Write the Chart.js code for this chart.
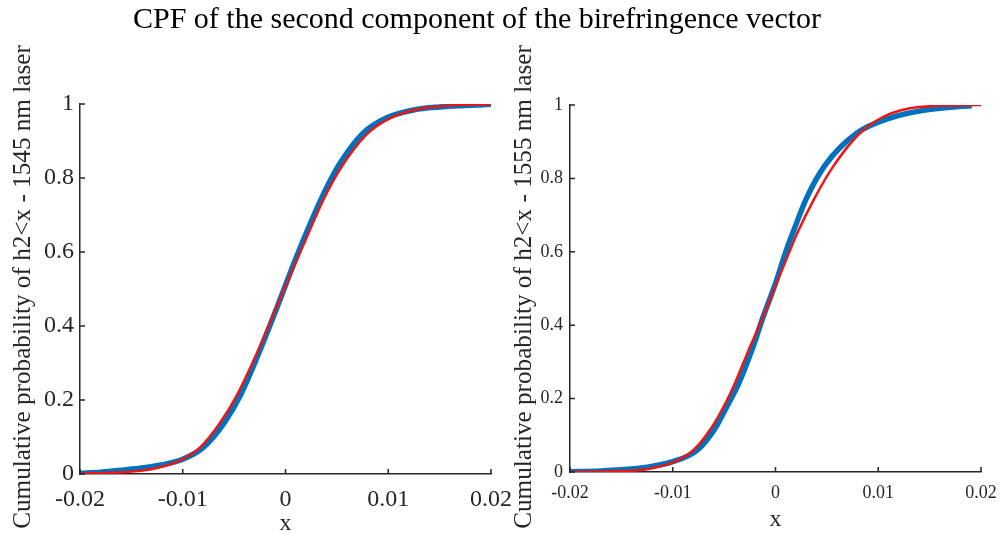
<!DOCTYPE html>
<html>
<head>
<meta charset="utf-8">
<script src="https://cdn.jsdelivr.net/npm/chart.js@4"></script>
<style>
  body { margin: 0; background: #fff; }
  #wrap { position: relative; width: 1006px; height: 538px; overflow: hidden; font-family: 'Liberation Serif', 'DejaVu Serif', serif; color: #262626; }
  canvas { position: absolute; top: 0; }
  #chartLeft { left: 0; }
  #chartRight { left: 515px; }
  .title { position: absolute; top: 1px; left: 0; width: 954px; text-align: center; font-size: 30px; line-height: 34px; color: #000; }
  .ytitle { position: absolute; width: 600px; height: 30px; line-height: 30px; text-align: center; font-size: 25.2px; transform: rotate(-90deg); white-space: nowrap; z-index: 2; }
</style>
</head>
<body>
<div id="wrap">
  <canvas id="chartLeft" width="515" height="538"></canvas>
  <canvas id="chartRight" width="491" height="538"></canvas>
  <div class="title">CPF of the second component of the birefringence vector</div>
  <div class="ytitle" id="ytLeft"></div>
  <div class="ytitle" id="ytRight"></div>
</div>
<script>
// axis ticks
const xTicks = [-0.02, -0.01, 0, 0.01, 0.02];
const xTickLabels = ['-0.02', '-0.01', '0', '0.01', '0.02'];
const yTicks = [0, 0.2, 0.4, 0.6, 0.8, 1];
const yTickLabels = ['0', '0.2', '0.4', '0.6', '0.8', '1'];

const leftYTitle = 'Cumulative probability of h2<x - 1545 nm laser';
const rightYTitle = 'Cumulative probability of h2<x - 1555 nm laser';
const xTitle = 'x';

// 1545 nm : measured (blue) and fitted (red)
const leftBlueX = [-0.0200, -0.0180, -0.0160, -0.0140, -0.0120, -0.0100, -0.0080, -0.0060, -0.0044, -0.0025, -0.0008, 0.0009, 0.0020, 0.0035, 0.0052, 0.0075, 0.0098, 0.0125, 0.0150, 0.0175, 0.0200];
const leftBlueY = [0.002, 0.005, 0.010, 0.016, 0.025, 0.040, 0.072, 0.137, 0.212, 0.333, 0.452, 0.575, 0.650, 0.745, 0.835, 0.920, 0.962, 0.984, 0.992, 0.996, 0.999];
const leftRedX = [-0.0200, -0.0165, -0.0132, -0.0103, -0.0083, -0.0064, -0.00475, -0.00268, -0.00086, 0.00109, 0.00222, 0.00368, 0.00547, 0.0079, 0.0102, 0.0131, 0.0160, 0.0200];
const leftRedY = [0.001, 0.004, 0.012, 0.036, 0.072, 0.137, 0.212, 0.333, 0.452, 0.578, 0.650, 0.741, 0.831, 0.918, 0.962, 0.987, 0.996, 0.999];

// 1555 nm : measured (blue) and fitted (red)
const rightBlueX = [-0.0200, -0.0170, -0.0150, -0.0125, -0.0100, -0.0076, -0.0059, -0.0047, -0.0036, -0.0023, -0.0012, 0.0000, 0.0010, 0.0018, 0.0030, 0.0048, 0.0079, 0.0112, 0.0141, 0.0167, 0.0191];
const rightBlueY = [0.001, 0.003, 0.006, 0.013, 0.028, 0.060, 0.118, 0.180, 0.240, 0.332, 0.423, 0.514, 0.600, 0.660, 0.745, 0.835, 0.923, 0.965, 0.984, 0.993, 0.998];
const rightRedX = [-0.0200, -0.0160, -0.0127, -0.0098, -0.0079, -0.0062, -0.0049, -0.0041, -0.00265, -0.0012, 0.0001, 0.0012, 0.0021, 0.0037, 0.0056, 0.0082, 0.0105, 0.0131, 0.0160, 0.0200];
const rightRedY = [0.000, 0.002, 0.007, 0.028, 0.062, 0.122, 0.186, 0.232, 0.330, 0.423, 0.514, 0.590, 0.650, 0.741, 0.832, 0.923, 0.968, 0.991, 0.998, 1.000];

const FONT = "'Liberation Serif', 'DejaVu Serif', serif";
const AXIS = '#262626';

function toPoints(xs, ys) {
  return xs.map((x, i) => ({ x: x, y: ys[i] }));
}

// MATLAB style ticks pointing into the plot
const innerTicks = {
  id: 'innerTicks',
  afterDraw(chart) {
    const { ctx, chartArea, scales } = chart;
    ctx.save();
    ctx.strokeStyle = AXIS;
    ctx.lineWidth = 1.5;
    ctx.beginPath();
    scales.x.ticks.forEach(t => {
      const px = scales.x.getPixelForValue(t.value);
      ctx.moveTo(px, chartArea.bottom);
      ctx.lineTo(px, chartArea.bottom - 5);
    });
    scales.y.ticks.forEach(t => {
      const py = scales.y.getPixelForValue(t.value);
      ctx.moveTo(chartArea.left, py);
      ctx.lineTo(chartArea.left + 5, py);
    });
    ctx.stroke();
    ctx.restore();
  }
};

function makeChart(id, blueX, blueY, redX, redY, s) {
  const ctx = document.getElementById(id).getContext('2d');
  return new Chart(ctx, {
    type: 'scatter',
    data: {
      datasets: [{
        label: 'fit',
        data: toPoints(redX, redY),
        showLine: true,
        borderColor: 'rgb(240,20,20)',
        borderWidth: 2.5,
        pointRadius: 0,
        cubicInterpolationMode: 'monotone'
      }, {
        label: 'data',
        data: toPoints(blueX, blueY),
        showLine: true,
        borderColor: 'rgb(0,114,189)',
        borderWidth: 5.5,
        pointRadius: 0,
        cubicInterpolationMode: 'monotone'
      }]
    },
    options: {
      responsive: false,
      animation: false,
      layout: { padding: { top: s.top, right: s.right, left: 0, bottom: 0 } },
      plugins: { legend: { display: false }, tooltip: { enabled: false } },
      scales: {
        x: {
          type: 'linear',
          min: -0.02,
          max: 0.02,
          afterBuildTicks: sc => { sc.ticks = xTicks.map(v => ({ value: v })); },
          afterFit: sc => { sc.height = s.xHeight; sc.paddingLeft = 0; sc.paddingRight = 0; },
          grid: { display: false, drawTicks: false },
          border: { display: true, color: AXIS, width: 1.5 },
          ticks: {
            color: AXIS,
            padding: s.xPad,
            maxRotation: 0,
            font: { family: FONT, size: s.tickSize },
            callback: (v, i) => xTickLabels[i]
          },
          title: {
            display: true,
            text: xTitle,
            color: AXIS,
            padding: { top: 0, bottom: s.xTitlePad },
            font: { family: FONT, size: 24 }
          }
        },
        y: {
          type: 'linear',
          min: 0,
          max: 1,
          afterBuildTicks: sc => { sc.ticks = yTicks.map(v => ({ value: v })); },
          afterFit: sc => { sc.width = s.yWidth; sc.paddingTop = 0; sc.paddingBottom = 0; },
          grid: { display: false, drawTicks: false },
          border: { display: true, color: AXIS, width: 1.5 },
          ticks: {
            color: AXIS,
            padding: s.yPad,
            font: { family: FONT, size: s.tickSize },
            callback: (v, i) => yTickLabels[i]
          }
        }
      }
    },
    plugins: [innerTicks]
  });
}

makeChart('chartLeft', leftBlueX, leftBlueY, leftRedX, leftRedY,
  { top: 104, right: 24, xHeight: 64, yWidth: 80, tickSize: 24, xPad: 11, yPad: 6, xTitlePad: 0 });
makeChart('chartRight', rightBlueX, rightBlueY, rightRedX, rightRedY,
  { top: 105, right: 25, xHeight: 66, yWidth: 55, tickSize: 18, xPad: 10, yPad: 7, xTitlePad: 4 });

// rotated y-axis titles
const ytl = document.getElementById('ytLeft');
ytl.textContent = leftYTitle;
ytl.style.left = (22 - 300) + 'px';
ytl.style.top = (287 - 15) + 'px';
const ytr = document.getElementById('ytRight');
ytr.textContent = rightYTitle;
ytr.style.left = (523 - 300) + 'px';
ytr.style.top = (287 - 15) + 'px';
</script>
</body>
</html>
